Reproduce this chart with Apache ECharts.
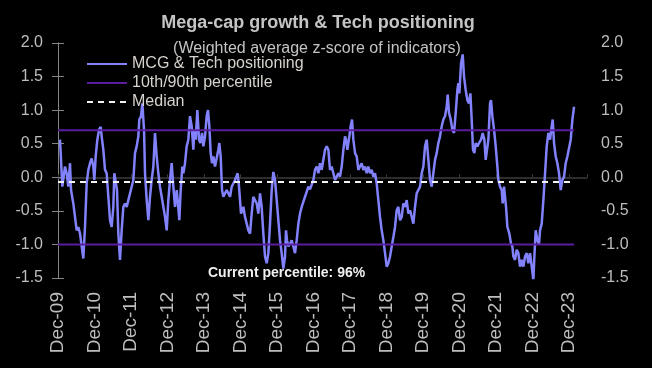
<!DOCTYPE html>
<html>
<head>
<meta charset="utf-8">
<script src="https://cdn.jsdelivr.net/npm/echarts@6/dist/echarts.min.js"></script>
<style>
html,body{margin:0;padding:0;background:#000;}
#chart{width:652px;height:368px;}
</style>
</head>
<body>
<div id="chart"></div>
<script>
// x positions are months elapsed since Dec-09
const monthsFromDec09 = [
 0.66,1.43,2.30,2.85,3.40,3.95,4.28,5.04,5.59,6.14,6.69,7.24,7.79,8.33,8.88,9.43,9.98,10.53,11.07,11.62,
 11.95,12.39,12.94,13.49,14.04,14.36,14.91,15.46,16.01,16.56,17.11,17.65,18.20,18.53,18.97,19.41,19.85,20.39,20.94,21.49,
 22.04,22.59,23.14,23.68,24.23,24.78,25.33,25.88,26.43,26.75,27.30,27.74,28.00,28.30,28.62,29.17,29.72,30.26,30.81,31.36,
 31.91,32.46,33.00,33.55,34.10,34.65,35.20,35.75,36.29,36.84,37.39,37.94,38.49,39.04,39.36,39.91,40.35,40.90,41.23,41.78,
 42.32,42.87,43.42,43.97,44.52,44.85,45.29,45.83,46.38,46.82,47.37,47.81,48.36,48.90,49.34,49.78,50.22,50.66,51.10,51.64,
 52.19,52.74,53.07,53.51,53.95,54.39,55.48,56.58,57.13,58.22,59.10,59.54,60.20,60.96,61.51,62.06,62.61,63.16,63.71,64.25,
 65.35,65.90,66.45,66.99,67.54,68.09,68.64,69.19,69.74,70.29,70.83,71.38,71.93,72.48,73.03,73.57,74.12,74.67,75.00,75.33,
 75.77,76.32,76.86,77.41,77.96,78.51,79.06,79.61,80.15,81.25,82.35,82.89,84.00,84.54,85.09,85.64,86.18,86.73,87.28,87.83,
 88.38,88.93,89.47,90.02,90.57,91.12,91.67,92.21,92.76,93.31,93.86,94.41,94.74,95.18,95.83,96.27,96.71,97.15,97.70,98.25,
 98.79,99.34,99.89,100.44,100.99,101.54,102.08,102.63,103.18,103.73,104.28,104.82,105.37,105.92,106.47,107.02,107.57,108.11,108.66,109.21,
 109.76,110.31,110.86,111.40,111.95,112.50,113.05,113.60,114.14,114.69,115.24,115.79,116.34,116.89,117.43,117.98,118.53,119.08,119.63,120.17,
 120.72,121.27,121.82,122.37,122.92,123.46,124.01,124.56,125.11,125.66,126.21,126.75,127.30,127.85,128.18,128.62,129.17,129.71,130.26,130.81,
 131.36,131.69,132.02,132.57,133.11,133.55,134.10,134.65,135.20,135.64,136.07,136.51,136.95,137.39,137.94,138.49,139.14,139.69,140.24,140.68,
 141.56,142.11,142.43,142.87,143.42,143.97,144.52,144.85,145.39,145.94,146.27,146.71,147.37,147.81,148.46,149.01,149.45,149.78,150.33,150.88,
 151.43,151.97,152.52,153.07,153.62,154.17,154.71,155.26,155.81,156.36,156.69,157.13,157.68,158.22,158.55,159.10,159.65,160.20,160.75,161.29,
 161.84,162.39,162.72,163.16,163.71,164.25,164.80,165.35,165.90,166.45,166.99,167.54,168.09,168.64,169.19,169.74
];
const zScores = [
 0.56,-0.14,0.16,0.06,-0.14,0.21,-0.19,-0.39,-0.59,-0.79,-0.74,-0.84,-1.03,-1.21,-0.74,-0.09,0.11,0.21,0.28,0.16,
 -0.04,0.31,0.56,0.71,0.75,0.61,0.41,0.11,0.06,-0.29,-0.64,-0.74,-0.44,0.06,0.08,-0.19,-0.84,-1.23,-0.79,-0.44,
 -0.39,-0.44,-0.34,-0.34,-0.14,-0.04,0.36,0.46,0.61,0.86,0.91,1.10,1.12,0.70,0.06,-0.34,-0.64,-0.29,-0.04,0.16,
 0.66,0.31,0.06,-0.14,-0.29,-0.44,-0.59,-0.79,-0.34,-0.04,0.21,-0.14,-0.44,-0.19,-0.34,-0.64,-0.19,0.16,0.06,0.21,
 0.46,0.56,0.91,0.76,0.41,0.71,0.56,1.00,0.56,0.51,0.66,0.46,0.61,0.91,1.00,0.76,0.36,0.21,0.31,0.16,
 0.16,0.41,0.51,0.31,-0.19,-0.29,-0.19,-0.29,-0.14,-0.04,0.06,-0.14,-0.54,-0.44,-0.59,-0.69,-0.79,-0.84,-0.54,-0.29,
 -0.39,-0.54,-0.24,-0.44,-0.84,-1.18,-1.28,-1.13,-0.69,-0.19,0.08,-0.04,-0.34,-0.64,-0.94,-1.13,-1.36,-1.18,-0.79,-0.94,
 -1.03,-0.99,-0.94,-1.03,-1.13,-0.94,-0.69,-0.54,-0.44,-0.29,-0.14,-0.18,-0.04,0.11,0.16,0.06,0.21,0.11,0.26,0.41,
 0.46,0.41,0.11,0.16,0.06,-0.04,0.01,0.06,0.01,0.16,0.41,0.61,0.56,0.41,0.61,0.76,0.86,0.56,0.36,0.31,
 0.11,0.16,0.21,0.11,0.16,0.06,0.16,0.06,0.11,0.01,0.06,-0.09,-0.34,-0.59,-0.79,-0.94,-1.13,-1.33,-1.28,-1.18,
 -1.03,-0.89,-0.74,-0.49,-0.44,-0.64,-0.59,-0.39,-0.44,-0.34,-0.54,-0.49,-0.59,-0.69,-0.44,-0.24,-0.19,-0.14,0.06,0.16,
 0.46,0.56,0.26,-0.04,-0.14,0.06,0.26,0.36,0.51,0.61,0.76,0.86,0.91,1.05,1.23,0.96,0.86,0.71,0.66,0.96,
 1.30,1.40,1.25,1.70,1.83,1.50,1.30,1.15,1.10,1.25,0.86,0.41,0.36,0.51,0.46,0.51,0.56,0.66,0.56,0.26,
 0.56,1.10,1.15,0.91,0.71,0.46,0.16,-0.04,-0.14,-0.19,-0.39,-0.14,-0.44,-0.74,-0.84,-0.99,-1.03,-1.18,-1.23,-1.08,
 -1.13,-1.33,-1.23,-1.33,-1.18,-1.13,-1.28,-1.13,-1.33,-1.53,-1.18,-0.79,-0.94,-0.99,-0.79,-0.69,-0.34,0.06,0.46,0.66,
 0.56,0.76,0.86,0.51,0.31,0.21,0.06,-0.19,-0.04,0.01,0.21,0.31,0.31,0.56,0.86,1.05
];
const xTickLabels = ['Dec-09','Dec-10','Dec-11','Dec-12','Dec-13','Dec-14','Dec-15','Dec-16','Dec-17','Dec-18','Dec-19','Dec-20','Dec-21','Dec-22','Dec-23'];
const percentile90 = 0.7;
const percentile10 = -1.0;
const medianValue = -0.07;
const currentPercentile = 96;

const seriesNames = ['MCG & Tech positioning','10th/90th percentile','Median'];
const firstT = 0;
const lastT = monthsFromDec09[monthsFromDec09.length - 1];
const mainData = monthsFromDec09.map((t, i) => [t, zScores[i]]);
const hline = v => [[firstT, v], [lastT, v]];

const FONT = '"Liberation Sans", Arial, sans-serif';
const chart = echarts.init(document.getElementById('chart'), null, {renderer: 'canvas'});
chart.setOption({
  backgroundColor: '#000000',
  animation: false,
  textStyle: {fontFamily: FONT},
  title: [
    {text: 'Mega-cap growth & Tech positioning', left: 313, top: 9, textAlign: 'center',
     textStyle: {color: '#c4c4c4', fontSize: 18, fontWeight: 'bold', fontFamily: FONT}},
    {text: '(Weighted average z-score of indicators)', left: 312, top: 36, textAlign: 'center',
     textStyle: {color: '#c4c4c4', fontSize: 16, fontWeight: 'normal', fontFamily: FONT}}
  ],
  legend: {
    data: seriesNames,
    orient: 'vertical',
    left: 81, top: 51,
    itemWidth: 40, itemHeight: 14, itemGap: 3,
    itemStyle: {opacity: 0},
    textStyle: {color: '#d6d2cc', fontSize: 16, lineHeight: 16, fontFamily: FONT},
    selectedMode: false
  },
  grid: {left: 58, right: 65, top: 43, bottom: 90, outerBoundsMode: 'none'},
  xAxis: [
    {type: 'value', min: 0, max: 174, interval: 12,
     axisLine: {show: false, onZero: false}, axisTick: {show: false}, splitLine: {show: false},
     axisLabel: {rotate: 90, margin: 14, fontSize: 19, color: '#bdbdbd', fontFamily: FONT,
       showMaxLabel: true,
       formatter: v => (Math.abs(v % 12) < 1e-6 && xTickLabels[v / 12]) ? xTickLabels[v / 12] : ''}},
    {type: 'value', min: 0, max: 174, interval: 12, position: 'top',
     axisLine: {show: true, onZero: true, lineStyle: {color: '#3c3c3c', width: 1.5}},
     axisTick: {show: true, length: 3, lineStyle: {color: '#3c3c3c'}},
     axisLabel: {show: false}, splitLine: {show: false}}
  ],
  yAxis: [
    {type: 'value', position: 'left', min: -1.5, max: 2.0, interval: 0.5,
     axisLine: {show: true, lineStyle: {color: '#858585', width: 1}},
     axisTick: {show: true, length: 6, lineStyle: {color: '#858585'}},
     splitLine: {show: false},
     axisLabel: {margin: 15, fontSize: 16, color: '#bdbdbd', fontFamily: FONT, formatter: v => v.toFixed(1)}},
    {type: 'value', position: 'right', min: -1.5, max: 2.0, interval: 0.5,
     axisLine: {show: true, lineStyle: {color: '#858585', width: 1}},
     axisTick: {show: true, length: 6, lineStyle: {color: '#858585'}},
     splitLine: {show: false},
     axisLabel: {margin: 14, fontSize: 16, color: '#bdbdbd', fontFamily: FONT, formatter: v => v.toFixed(1)}}
  ],
  series: [
    {name: seriesNames[0], type: 'line', data: mainData, symbol: 'none', showSymbol: false,
     lineStyle: {color: '#8282fc', width: 2.5}, itemStyle: {color: '#8282fc'}},
    {name: seriesNames[1], type: 'line', data: hline(percentile90), symbol: 'none',
     lineStyle: {color: '#5a1d9e', width: 2}, itemStyle: {color: '#5a1d9e'}},
    {name: seriesNames[1], type: 'line', data: hline(percentile10), symbol: 'none',
     lineStyle: {color: '#5a1d9e', width: 2}, itemStyle: {color: '#5a1d9e'}},
    {name: seriesNames[2], type: 'line', data: hline(medianValue), symbol: 'none',
     lineStyle: {color: '#f2f2f2', width: 2, type: [6, 5]}, itemStyle: {color: '#f2f2f2'}}
  ],
  graphic: [
    {type: 'text', left: 208, top: 266,
     style: {text: 'Current percentile: ' + currentPercentile + '%', fill: '#f0f0f0',
             font: 'bold 14px ' + FONT}}
  ]
});
</script>
</body>
</html>
